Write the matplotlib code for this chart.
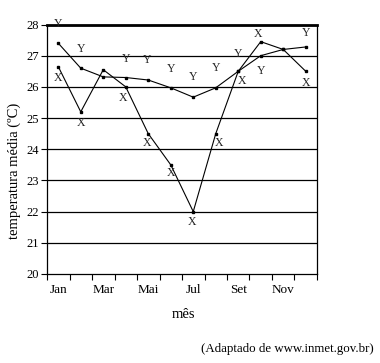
import numpy as np
import matplotlib
matplotlib.use("Agg")
import matplotlib.pyplot as plt

plt.rcParams['font.family'] = ['Liberation Serif', 'DejaVu Serif']

meses = ['Jan', 'Fev', 'Mar', 'Abr', 'Mai', 'Jun', 'Jul', 'Ago', 'Set', 'Out', 'Nov', 'Dez']
temp_x = [26.65, 25.2, 26.55, 26.0, 24.5, 23.5, 22.0, 24.5, 26.5, 27.45, 27.2, 26.5]
temp_y = [27.4, 26.6, 26.32, 26.3, 26.22, 25.97, 25.67, 25.97, 26.5, 27.0, 27.2, 27.28]
y_ticks = [20, 21, 22, 23, 24, 25, 26, 27, 28]

# label offsets in pixels (None = no label)
off_x = [(0, -11), (0, -11), None, (-3, -11), (-1, -9), (0, -8), (-1, -10),
         (3, -9), (4, -10), (-3, 8), None, (0, -12)]
off_y = [(0, 19), (0, 19), None, (0, 19), (-1, 20), (0, 19), (0, 20),
         (0, 20), (0, 17), (0, -15), None, (0, 14)]

fig = plt.figure(figsize=(3.8, 3.63), dpi=100)
ax = fig.add_axes([0.1237, 0.2452, 0.7105, 0.6873])

xs = np.arange(len(meses))
for vals, offs, name in [(temp_x, off_x, 'X'), (temp_y, off_y, 'Y')]:
    ax.plot(xs, vals, color='black', lw=0.8, marker='s', ms=2)
    for xi, v, o in zip(xs, vals, offs):
        if o is None:
            continue
        ax.annotate(name, (xi, v), xytext=o, textcoords='offset pixels',
                    ha='center', va='center', fontsize=8.5, color='#222222',
                    annotation_clip=False)

for t in y_ticks[1:]:
    ax.axhline(t, color='black', lw=0.9, zorder=0)

ax.set_xlim(-0.5, 11.5)
ax.set_ylim(20, 28)
ax.set_yticks(y_ticks)
ax.set_xticks(np.arange(-0.5, 12, 1))
ax.set_xticklabels([])
ax.set_xticks(xs[::2], minor=True)
ax.set_xticklabels(meses[::2], minor=True)
ax.tick_params(axis='x', which='minor', length=0, pad=7, labelsize=9.5)
ax.tick_params(axis='x', which='major', length=4, width=0.8)
ax.tick_params(axis='y', length=4, width=0.8, labelsize=9, pad=2)

for s in ax.spines.values():
    s.set_linewidth(0.9)
ax.spines['top'].set_linewidth(2.0)

ax.set_xlabel('mês', fontsize=10.5, va='center')
ax.xaxis.set_label_coords(0.506, -0.164)
ax.set_ylabel('temperatura média (ºC)', fontsize=10.5, va='center')
ax.yaxis.set_label_coords(-0.122, 0.413)

fig.text(0.755, 0.038, '(Adaptado de www.inmet.gov.br)', ha='center', va='center', fontsize=9.3)

fig.savefig('out.png', dpi=100)
